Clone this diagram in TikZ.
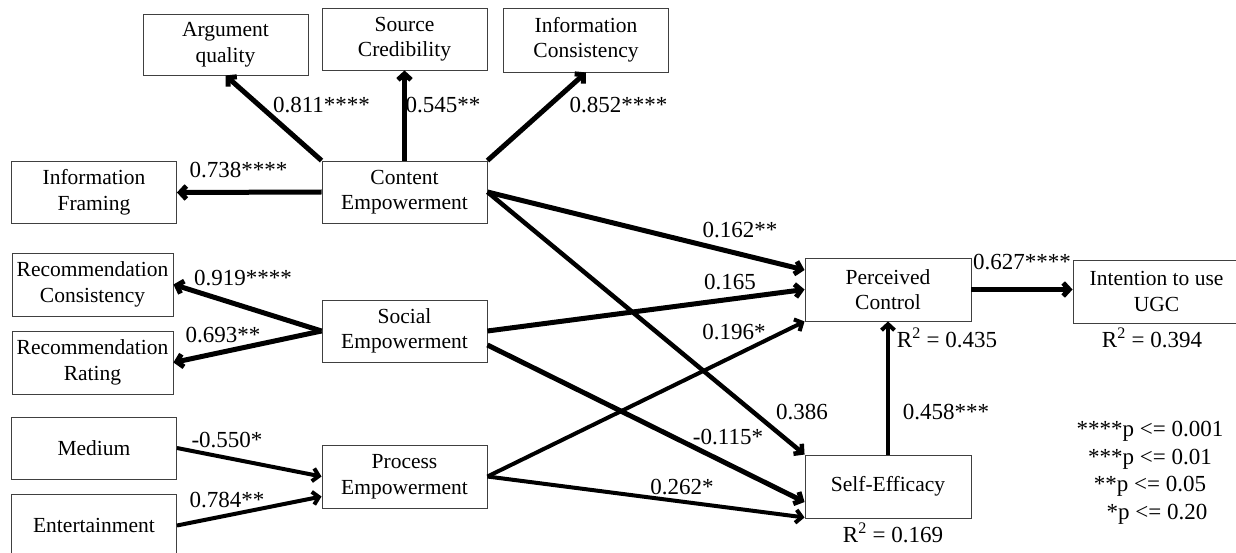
\documentclass[tikz,border=0pt]{standalone}
\usepackage{fontspec}
\setmainfont{Liberation Serif}
\usetikzlibrary{arrows.meta}

\begin{document}
\begin{tikzpicture}[x=1pt,y=-1pt,font=\fontsize{23}{27.5}\selectfont]
          \useasboundingbox (0,0) rectangle (1236,553);
          \begin{scope}[every node/.style={rectangle,draw=black!75,line width=0.9pt,align=center,inner sep=0pt,minimum width=165pt,minimum height=62pt,font=\fontsize{21.5}{25.5}\selectfont}]
            \node (aq) at (225.5,44.5) [minimum height=61pt] {Argument\\quality};
            \node (sc) at (404.5,39) {Source\\Credibility};
            \node (ic) at (586,40) [minimum height=64pt] {Information\\Consistency};
            \node (if) at (94,192.5) {Information\\Framing};
            \node (ce) at (404.5,192) {Content\\Empowerment};
            \node (rc) at (92.5,284.5) [minimum width=161pt,minimum height=63pt] {Recommendation\\Consistency};
            \node (rr) at (92.5,362.5) [minimum width=161pt,minimum height=63pt] {Recommendation\\Rating};
            \node (soc) at (404.5,331) {Social\\Empowerment};
            \node (med) at (94,448) {Medium};
            \node (ent) at (94,525.5) [minimum height=63pt] {Entertainment};
            \node (proc) at (404.5,476.5) [minimum height=63pt] {Process\\Empowerment};
            \node (pc) at (888,289.5) [minimum width=166pt,minimum height=63pt] {Perceived\\Control};
            \node (iu) at (1156.5,291.5) [minimum width=167pt,minimum height=63pt] {Intention to use\\UGC};
            \node (sef) at (888,486.5) [minimum width=166pt,minimum height=63pt] {Self-Efficacy};
          \end{scope}
          \begin{scope}[every node/.style={inner sep=0pt}]
            \node (l811) at (321.5,105) {0.811****};
            \node (l545) at (443,105) {0.545**};
            \node (l852) at (618.5,105) {0.852****};
            \node (l738) at (238.5,170) {0.738****};
            \node (l919) at (243,278) {0.919****};
            \node (l693) at (223,335) {0.693**};
            \node (l550) at (227,440) {-0.550*};
            \node (l784) at (227,500) {0.784**};
            \node (l162) at (740,230) {0.162**};
            \node (l165) at (730,282) {0.165};
            \node (l196) at (734,332) {0.196*};
            \node (l386) at (802,412) {0.386};
            \node (l115) at (728,437) {-0.115*};
            \node (l262) at (682,487) {0.262*};
            \node (l458) at (946,412) {0.458***};
            \node (l627) at (1022,262) {0.627****};
            \node (r435) at (947,338) {R\textsuperscript{2} = 0.435};
            \node (r394) at (1152,338) {R\textsuperscript{2} = 0.394};
            \node (r169) at (893,533) {R\textsuperscript{2} = 0.169};
            \node (key) at (1150,473) [align=center] {****p <= 0.001\\***p <= 0.01\\**p <= 0.05\\\hspace{14pt}*p <= 0.20};
          \end{scope}
          \begin{scope}[every edge/.style={draw=black,line width=5pt,-{Straight Barb[length=6pt,width=13pt]}}]
            \path (ce.north west) edge (aq.south);
            \path (ce.north) edge (sc.south);
            \path (ce.north east) edge (ic.south);
            \path (ce.west) edge (if.east);
            \path (ce.east) edge ([yshift=19.5pt]pc.west);
            \path (ce.east) edge[line width=4.5pt] (sef.north west);
            \path (soc.west) edge (rc.east);
            \path (soc.west) edge (rr.east);
            \path (soc.east) edge (pc.west);
            \path ([yshift=-14pt]soc.east) edge ([yshift=-15.5pt]sef.west);
            \path (med.east) edge[line width=4pt] (proc.west);
            \path (ent.east) edge[line width=4pt] ([yshift=-20pt]proc.west);
            \path (proc.east) edge[line width=4pt] (pc.south west);
            \path (proc.east) edge[line width=4pt] ([yshift=1pt]sef.south west);
            \path (sef.north) edge[line width=4pt] (pc.south);
            \path (pc.east) edge (pc.east -| iu.west);
          \end{scope}
        \end{tikzpicture}
\end{document}
